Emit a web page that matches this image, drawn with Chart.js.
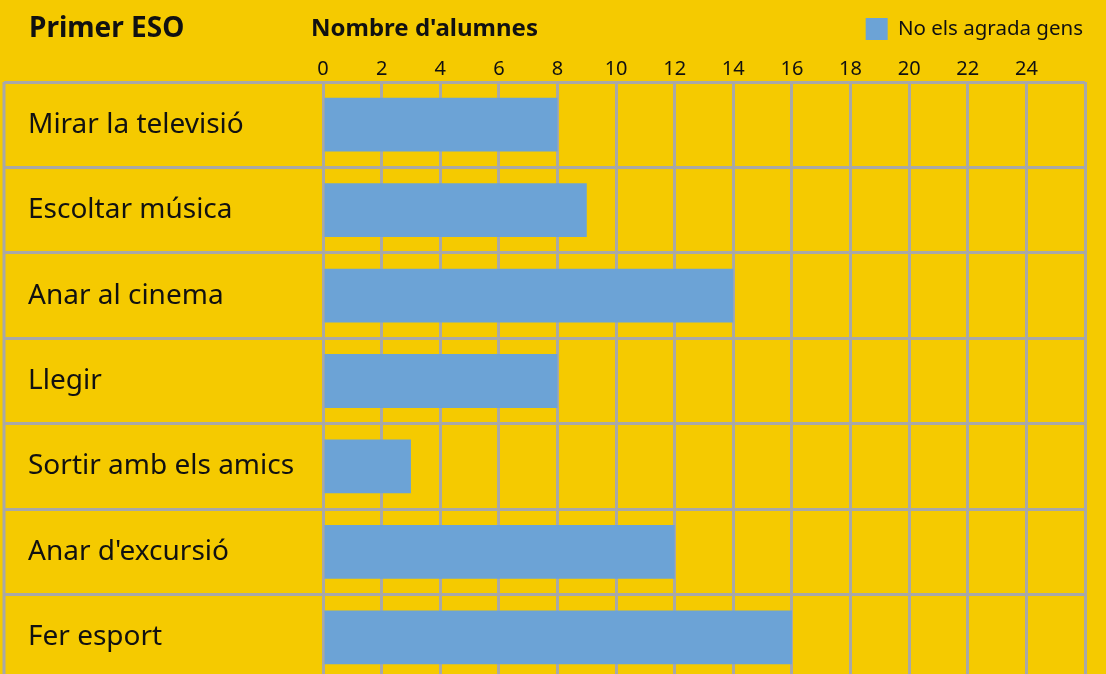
<!DOCTYPE html>
<html>
<head>
<meta charset="utf-8">
<title>Primer ESO</title>
<script src="https://cdn.jsdelivr.net/npm/chart.js@4/dist/chart.umd.min.js"></script>
<style>
  html, body { margin: 0; padding: 0; background: #f5ca00; overflow: hidden; }
  #wrap { width: 1106px; height: 674px; overflow: hidden; }
</style>
</head>
<body>
<div id="wrap"><canvas id="grafic" width="1106" height="700"></canvas></div>
<script>
// activitats i nombre d'alumnes
const activitats = ['Mirar la televisió', 'Escoltar música', 'Anar al cinema', 'Llegir', 'Sortir amb els amics', "Anar d'excursió", 'Fer esport'];
const noAgradaGens = [8, 9, 14, 8, 3, 12, 16];
const ticksAlumnes = [0, 2, 4, 6, 8, 10, 12, 14, 16, 18, 20, 22, 24];

const blau = '#6ca3d6';
const gris = '#a8a8a8';
const fontText = "'Noto Sans', sans-serif";

// capçalera: títol i nom de l'eix
const capcalera = {
    id: 'capcalera',
    afterDraw(chart) {
        const ctx = chart.ctx;
        ctx.save();
        ctx.fillStyle = '#111';
        ctx.textBaseline = 'middle';
        ctx.textAlign = 'left';
        ctx.font = "bold 28px " + fontText;
        ctx.fillText('Primer ESO', 29, 29);
        ctx.font = "bold 24px " + fontText;
        ctx.fillText("Nombre d'alumnes", 311, 29);
        ctx.restore();
    }
};

// línia vertical de la columna d'etiquetes
const voraEsquerra = {
    id: 'voraEsquerra',
    beforeDatasetsDraw(chart) {
        const {ctx, chartArea} = chart;
        ctx.save();
        ctx.strokeStyle = gris;
        ctx.lineWidth = 3;
        ctx.beginPath();
        ctx.moveTo(4, chartArea.top);
        ctx.lineTo(4, chart.height);
        ctx.stroke();
        ctx.restore();
    }
};

new Chart(document.getElementById('grafic'), {
    type: 'bar',
    data: {
        labels: activitats,
        datasets: [{
            label: 'No els agrada gens',
            data: noAgradaGens,
            backgroundColor: blau,
            borderWidth: 0,
            categoryPercentage: 1,
            barPercentage: 0.63
        }]
    },
    options: {
        indexAxis: 'y',
        responsive: false,
        animation: false,
        layout: { padding: { top: 16, right: 21, left: 28, bottom: 20 } },
        plugins: {
            tooltip: { enabled: false },
            legend: {
                position: 'top',
                align: 'end',
                labels: {
                    color: '#111',
                    font: { family: fontText, size: 20.5 },
                    boxWidth: 22,
                    boxHeight: 22,
                    padding: 2
                }
            }
        },
        scales: {
            x: {
                position: 'top',
                min: 0,
                max: 26,
                afterFit(scale) { scale.height = 32; },
                afterBuildTicks(scale) {
                    scale.ticks = ticksAlumnes.concat([26]).map(v => ({ value: v }));
                },
                ticks: {
                    color: '#111',
                    font: { family: fontText, size: 20, lineHeight: 1 },
                    padding: 3,
                    maxRotation: 0,
                    callback: v => ticksAlumnes.includes(v) ? String(v) : ''
                },
                grid: { color: gris, lineWidth: 3, drawTicks: false },
                border: { display: false }
            },
            y: {
                afterFit(scale) { scale.width = 323 - 28; },
                ticks: {
                    color: '#111',
                    crossAlign: 'far',
                    font: { family: fontText, size: 28 }
                },
                grid: { color: gris, lineWidth: 3, tickLength: 319 },
                border: { display: false }
            }
        }
    },
    plugins: [capcalera, voraEsquerra]
});
</script>
</body>
</html>
